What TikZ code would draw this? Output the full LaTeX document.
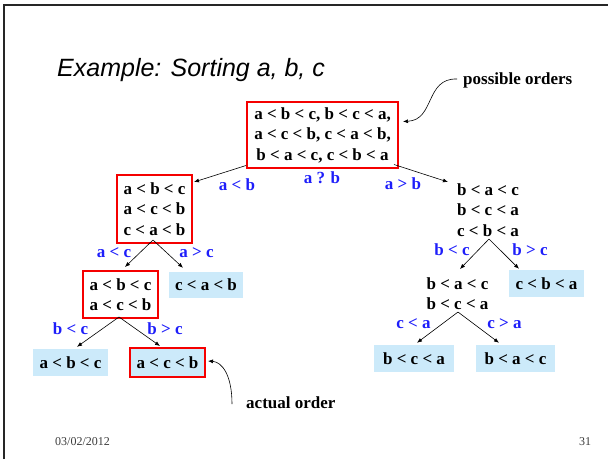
\documentclass[tikz,border=0pt]{standalone}
\usepackage{fontspec}
\setmainfont{Liberation Serif}
\newfontfamily\titlefont{Liberation Sans}
\usetikzlibrary{arrows.meta,calc}
\definecolor{ordred}{RGB}{245,0,0}
\definecolor{lblblue}{RGB}{30,30,250}
\definecolor{leafblue}{RGB}{204,234,250}
\definecolor{footgray}{RGB}{60,60,60}

\begin{document}
\begin{tikzpicture}[x=1pt,y=-1pt,
  ordtext/.style={font=\fontsize{17}{20.5}\selectfont\bfseries, align=center, inner sep=0pt},
  setbox/.style={ordtext, draw=ordred, line width=2pt},
  leaf/.style={ordtext, fill=leafblue, minimum height=27pt},
  cmp/.style={font=\fontsize{17}{20}\selectfont\bfseries, text=lblblue, inner sep=0pt},
  note/.style={font=\fontsize{17}{20}\selectfont\bfseries, inner sep=0pt},
  edge/.style={-{Latex[length=5pt,width=4pt]}, line width=0.6pt},
  foot/.style={font=\fontsize{12}{14}\selectfont, text=footgray, inner sep=0pt}]
\useasboundingbox (0,0) rectangle (608,459);

% slide frame
\draw[line width=2pt, black!85] (3.5,459) -- (3.5,5) -- (608,5);

% title
\node[anchor=base west, inner sep=0pt, font=\titlefont\itshape\fontsize{25}{28}\selectfont] (title) at (57,76) {Example: Sorting a, b, c};

% decision tree nodes
\node[setbox, minimum width=151pt, minimum height=66pt] (top) at (322.5,135)
  {a < b < c, b < c < a,\\ a < c < b, c < a < b,\\ b < a < c, c < b < a};
\node[setbox, minimum width=75pt, minimum height=68pt] (L1) at (154.5,209)
  {a < b < c\\ a < c < b\\ c < a < b};
\node[setbox, minimum width=75pt, minimum height=47pt] (L2) at (120.5,294.5)
  {a < b < c\\ a < c < b};
\node[leaf, minimum width=74pt, minimum height=26pt] (CAB) at (206,285) {c < a < b};
\node[leaf, minimum width=75pt] (ABC) at (70.5,362.5) {a < b < c};
\node[leaf, draw=ordred, line width=2pt, minimum width=75pt, minimum height=29pt] (ACB) at (167.5,362.5) {a < c < b};

\node[ordtext] (R1) at (488,210) {b < a < c\\ b < c < a\\ c < b < a};
\node[ordtext] (R2) at (457.5,293.5) {b < a < c\\ b < c < a};
\node[leaf, minimum width=75pt] (CBA) at (546.5,283.5) {c < b < a};
\node[leaf, minimum width=80pt] (BCA) at (414,358.5) {b < c < a};
\node[leaf, minimum width=79pt] (BAC) at (515.5,358.5) {b < a < c};

% comparison labels
\node[cmp] (qab) at (322,178) {a ? b};
\node[cmp] (lab) at (237,185) {a < b};
\node[cmp] (gab) at (403,184) {a > b};
\node[cmp] (lac) at (114,253) {a < c};
\node[cmp] (gac) at (196.5,253) {a > c};
\node[cmp] (lbc1) at (70.5,329) {b < c};
\node[cmp] (gbc1) at (165,329) {b > c};
\node[cmp] (lbc2) at (452,250) {b < c};
\node[cmp] (gbc2) at (530,250) {b > c};
\node[cmp] (lca) at (413.5,324) {c < a};
\node[cmp] (gca) at (504.5,324) {c > a};

% tree edges
\draw[edge] ($(top.south west)+(0,-3.5)$) -- ($(L1.north east)+(1,8)$);
\draw[edge] ($(top.south east)+(-5,-4.5)$) -- ($(R1.center)+(-40,-28)$);
\draw[edge] ($(L1.south)+(-1.5,-4)$) -- ($(L2.north)+(4.5,-3)$);
\draw[edge] ($(L1.south)+(-1.5,-4)$) -- ($(CAB.north)+(-23,-4)$);
\draw[edge] ($(L2.south)+(-1.5,-2)$) -- ($(ABC.north)+(6.5,-2)$);
\draw[edge] ($(L2.south)+(-1.5,-2)$) -- ($(ACB.north)+(-7.5,-1)$);
\draw[edge] ($(R1.center)+(1,29)$) -- ($(R2.center)+(2.5,-24.5)$);
\draw[edge] ($(R1.center)+(1,29)$) -- ($(CBA.north)+(-27.5,-1)$);
\draw[edge] ($(R2.center)+(0.5,18.5)$) -- ($(BCA.north)+(3,-2)$);
\draw[edge] ($(R2.center)+(0.5,18.5)$) -- ($(BAC.north)+(-16.5,-2)$);

% annotations
\node[note, anchor=west] (poss) at (463,80) {possible orders};
\draw[edge] ($(poss.west)+(-6,-1)$) .. controls (425,78) and (435,120) .. ($(top.east)+(4,-13.5)$);
\node[note, anchor=west] (act) at (246,403) {actual order};
\draw[edge] ($(act.west)+(-14,1)$) .. controls (232,375) and (222,362) .. ($(ACB.east)+(2,-1.5)$);

% footer
\node[foot] (date) at (82.5,442) {03/02/2012};
\node[foot] (page) at (585,442) {31};
\end{tikzpicture}
\end{document}
